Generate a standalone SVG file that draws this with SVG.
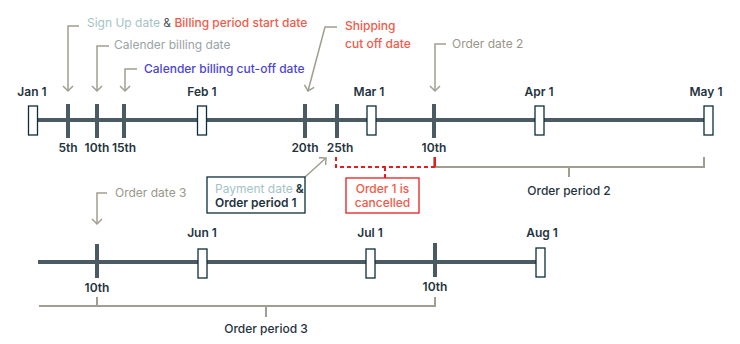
<svg xmlns="http://www.w3.org/2000/svg" width="740" height="344" viewBox="0 0 740 344">
<defs>
<marker id="chev" viewBox="-6 -6 8 12" markerWidth="8" markerHeight="12" markerUnits="userSpaceOnUse" refX="0" refY="0" orient="auto">
<path d="M-5,-5 L0,0 L-5,5" fill="none" stroke="#a19d90" stroke-width="1.5"/>
</marker>
<style>
text{font-family:Inter,"Noto Sans","Liberation Sans",sans-serif;font-size:12px}
.m{fill:#1f3440;font-weight:600;text-anchor:middle}
.d{fill:#1f3440;font-weight:500;text-anchor:middle}
.axis{stroke:#4b5b63;stroke-width:4;fill:none}
.tick{stroke:#4b5b63;stroke-width:4}
.box{fill:#fff;stroke:#0d2e3a;stroke-width:1.3}
.ann{fill:none;stroke:#a19d90;stroke-width:1.5;marker-end:url(#chev)}
.br{fill:none;stroke:#a19d90;stroke-width:2}
.red{fill:none;stroke:#e81c1c;stroke-width:2;stroke-dasharray:4 3}
</style>
</defs>
<g id="connectors">
<path class="ann" d="M79,26 H68 V91"/>
<path class="ann" d="M109,46 H97 V91"/>
<path class="ann" d="M137,69 H125 V91"/>
<path class="ann" d="M337,27 H325 L308,91"/>
<path class="ann" d="M446,44 H435 V91"/>
<path class="ann" d="M107,193 H97 V224"/>
<path class="ann" d="M305,177 L326,158"/>
<path class="br" d="M434,157 V167 H704 V157 M569,167 V177"/>
<path class="br" d="M39,306 H435 V297 M97,297 V306 M266,306 V317"/>
<path class="red" d="M336,157 V167 H435 M385,167 V178"/>
<path d="M435,157 V167" stroke="#e81c1c" stroke-width="2"/>
</g>
<g id="timeline1">
<line class="axis" x1="33" y1="120" x2="708" y2="120"/>
<line class="tick" x1="68" y1="104" x2="68" y2="138"/>
<line class="tick" x1="97" y1="104" x2="97" y2="138"/>
<line class="tick" x1="124" y1="104" x2="124" y2="138"/>
<line class="tick" x1="305" y1="104" x2="305" y2="138"/>
<line class="tick" x1="337" y1="104" x2="337" y2="138"/>
<line class="tick" x1="434" y1="104" x2="434" y2="138"/>
<rect class="box" x="28.5" y="106" width="9" height="29"/>
<rect class="box" x="197.5" y="106" width="9" height="29"/>
<rect class="box" x="367" y="106" width="9" height="29"/>
<rect class="box" x="535" y="106" width="9" height="29"/>
<rect class="box" x="704" y="106" width="9" height="29"/>
<text class="m" x="32" y="96">Jan 1</text>
<text class="m" x="202" y="96">Feb 1</text>
<text class="m" x="369" y="96">Mar 1</text>
<text class="m" x="539" y="96">Apr 1</text>
<text class="m" x="706" y="96">May 1</text>
<text class="m" x="68" y="152">5th</text>
<text class="m" x="97" y="152">10th</text>
<text class="m" x="124" y="152">15th</text>
<text class="m" x="305" y="152">20th</text>
<text class="m" x="340" y="152">25th</text>
<text class="m" x="434" y="152">10th</text>
</g>
<g id="timeline2">
<line class="axis" x1="38" y1="262" x2="540" y2="262"/>
<line class="tick" x1="97" y1="244" x2="97" y2="278"/>
<line class="tick" x1="435" y1="243" x2="435" y2="277"/>
<rect class="box" x="198" y="249" width="9" height="29"/>
<rect class="box" x="366" y="249" width="9" height="29"/>
<rect class="box" x="536" y="248" width="9" height="29"/>
<text class="m" x="202" y="237">Jun 1</text>
<text class="m" x="370" y="237">Jul 1</text>
<text class="m" x="542" y="237">Aug 1</text>
<text class="m" x="97" y="292">10th</text>
<text class="m" x="435" y="291">10th</text>
</g>
<g id="annotations">
<text x="87" y="27"><tspan fill="#a3c4c6">Sign Up date</tspan><tspan fill="#4b5b63"> &amp; </tspan><tspan fill="#f25a4a" font-weight="500">Billing period start date</tspan></text>
<text x="114" y="49" fill="#9aa3a6">Calender billing date</text>
<text x="144" y="73" fill="#4b45d6" font-weight="500">Calender billing cut-off date</text>
<text x="345" y="30" fill="#f25a4a" font-weight="500">Shipping</text>
<text x="345" y="48" fill="#f25a4a" font-weight="500">cut off date</text>
<text x="452" y="48" fill="#9a968a">Order date 2</text>
<text x="115" y="197" fill="#9a968a">Order date 3</text>
</g>
<g id="payment">
<rect x="207" y="177" width="98" height="36" fill="#fff" stroke="#0d2e3a" stroke-width="1.3"/>
<text x="215" y="192.5"><tspan fill="#a3c4c6">Payment date</tspan><tspan fill="#1f3440" font-weight="600"> &amp;</tspan></text>
<text x="215" y="207" fill="#1f3440" font-weight="600">Order period 1</text>
</g>
<g id="cancelled">
<rect x="346" y="178" width="73" height="35" fill="#fff" stroke="#e81c1c" stroke-width="1.3"/>
<text x="382.5" y="192.5" fill="#f25a4a" font-weight="500" text-anchor="middle">Order 1 is</text>
<text x="382.5" y="207" fill="#f25a4a" font-weight="500" text-anchor="middle">cancelled</text>
</g>
<g id="periods">
<text class="d" x="569" y="195">Order period 2</text>
<text class="d" x="266" y="333">Order period 3</text>
</g>
</svg>
